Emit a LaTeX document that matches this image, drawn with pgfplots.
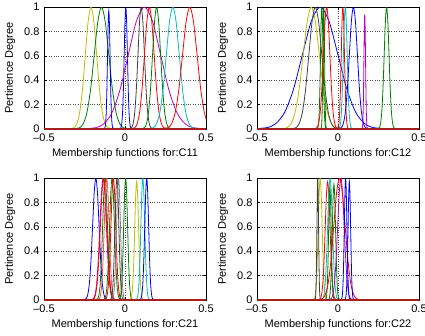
\documentclass[border=0pt]{standalone}
\usepackage{fontspec}
\setmainfont{Liberation Sans}
\usepackage{pgfplots}
\pgfplotsset{compat=1.18}
\definecolor{mb}{rgb}{0,0,1}
\definecolor{mg}{rgb}{0,0.5,0}
\definecolor{mr}{rgb}{1,0,0}
\definecolor{mc}{rgb}{0,0.75,0.75}
\definecolor{mm}{rgb}{0.75,0,0.75}
\definecolor{my}{rgb}{0.75,0.75,0}
\definecolor{mk}{rgb}{0.25,0.25,0.25}
\definecolor{mgr}{rgb}{0.5,0.5,0.5}
\definecolor{mdr}{rgb}{0.65,0.12,0.12}
\pgfplotsset{mf/.style={
  width=162pt,height=122pt,scale only axis,
  xmin=-0.5,xmax=0.5,ymin=0,ymax=1,
  xtick={-0.5,0,0.5},xticklabels={--0.5,0,0.5},
  ytick={0,0.2,0.4,0.6,0.8,1},yticklabels={0,0.2,0.4,0.6,0.8,1},
  grid=major,major grid style={dotted,black!70,line width=0.6pt},
  tick align=inside,major tick length=3pt,tick style={black,line width=0.5pt},
  axis line style={black,line width=0.6pt},
  tick label style={font=\fontsize{11}{13}\selectfont},
  xticklabel style={yshift=-1pt},
  yticklabel style={xshift=-1pt},
  label style={font=\fontsize{11}{13}\selectfont},
  ylabel={Pertinence Degree},
  ylabel style={at={(axis description cs:-0.21,0.5)},anchor=center},
  xlabel style={at={(axis description cs:0.5,-0.2)},anchor=center},
  every axis plot/.append style={line width=0.8pt,smooth},
}}
\begin{document}
\begin{tikzpicture}
\useasboundingbox (0,0) rectangle (425pt,-335pt);
% ---------------- C11
\begin{axis}[mf,at={(44pt,-7pt)},anchor=north west,xlabel={Membership functions for:C11}]
\addplot[my] coordinates {(-0.35,0)(-0.315,.011)(-0.2975,.044)(-0.28,.135)(-0.2625,.325)(-0.245,.607)(-0.2275,.882)(-0.21,1)(-0.1925,.882)(-0.175,.607)(-0.1575,.325)(-0.14,.135)(-0.1225,.044)(-0.105,.011)(-0.07,0)};
\addplot[mg] coordinates {(-0.325,0)(-0.28,.011)(-0.2575,.044)(-0.235,.135)(-0.2125,.325)(-0.19,.607)(-0.1675,.882)(-0.145,1)(-0.1225,.882)(-0.1,.607)(-0.0775,.325)(-0.055,.135)(-0.0325,.044)(-0.01,.011)(0.035,0)};
\addplot[mb] coordinates {(-0.132,0)(-0.124,.011)(-0.12,.043)(-0.116,.131)(-0.112,.315)(-0.108,.589)(-0.104,.856)(-0.1,.97)(-0.096,.856)(-0.092,.589)(-0.088,.315)(-0.084,.131)(-0.08,.043)(-0.076,.011)(-0.068,0)};
\addplot[mb] coordinates {(-0.035,0)(-0.025,.011)(-0.02,.044)(-0.015,.135)(-0.01,.325)(-0.005,.607)(0,.882)(0.005,1)(0.01,.882)(0.015,.607)(0.02,.325)(0.025,.135)(0.03,.044)(0.035,.011)(0.045,0)};
\addplot[mm] coordinates {(-0.28,0)(-0.18,.011)(-0.13,.044)(-0.08,.135)(-0.03,.325)(0.02,.607)(0.07,.882)(0.12,1)(0.17,.882)(0.22,.607)(0.27,.325)(0.32,.135)(0.37,.044)(0.42,.011)(0.52,0)};
\addplot[mk] coordinates {(0.02,0)(0.04,.011)(0.05,.044)(0.06,.135)(0.07,.325)(0.08,.607)(0.09,.882)(0.1,1)(0.11,.882)(0.12,.607)(0.13,.325)(0.14,.135)(0.15,.044)(0.16,.011)(0.18,0)};
\addplot[mr] coordinates {(0.03,0)(0.06,.011)(0.075,.044)(0.09,.135)(0.105,.325)(0.12,.607)(0.135,.882)(0.15,1)(0.165,.882)(0.18,.607)(0.195,.325)(0.21,.135)(0.225,.044)(0.24,.011)(0.27,0)};
\addplot[mg] coordinates {(0.095,0)(0.12,.011)(0.1325,.044)(0.145,.135)(0.1575,.325)(0.17,.607)(0.1825,.882)(0.195,1)(0.2075,.882)(0.22,.607)(0.2325,.325)(0.245,.135)(0.2575,.044)(0.27,.011)(0.295,0)};
\addplot[mc] coordinates {(0.135,0)(0.175,.011)(0.195,.044)(0.215,.135)(0.235,.325)(0.255,.607)(0.275,.882)(0.295,1)(0.315,.882)(0.335,.607)(0.355,.325)(0.375,.135)(0.395,.044)(0.415,.011)(0.455,0)};
\addplot[mr] coordinates {(0.22,0)(0.265,.011)(0.2875,.044)(0.31,.135)(0.3325,.325)(0.355,.607)(0.3775,.882)(0.4,1)(0.4225,.882)(0.445,.607)(0.4675,.325)(0.49,.135)(0.5125,.044)(0.535,.011)(0.58,0)};
\addplot[mdr,line width=1.2pt,sharp plot] coordinates {(-0.5,0)(0.5,0)};
\end{axis}
% ---------------- C12
\begin{axis}[mf,at={(257pt,-7pt)},anchor=north west,xlabel={Membership functions for:C12}]
\addplot[mb] coordinates {(-0.55,0)(-0.44,.011)(-0.385,.044)(-0.33,.135)(-0.275,.325)(-0.22,.607)(-0.165,.882)(-0.11,1)(-0.055,.882)(0,.607)(0.055,.325)(0.11,.135)(0.165,.044)(0.22,.011)(0.33,0)};
\addplot[my] coordinates {(-0.365,0)(-0.315,.011)(-0.29,.044)(-0.265,.135)(-0.24,.325)(-0.215,.607)(-0.19,.882)(-0.165,1)(-0.14,.882)(-0.115,.607)(-0.09,.325)(-0.065,.135)(-0.04,.044)(-0.015,.011)(0.035,0)};
\addplot[mk] coordinates {(-0.3,0)(-0.26,.011)(-0.24,.044)(-0.22,.135)(-0.2,.325)(-0.18,.607)(-0.16,.882)(-0.14,1)(-0.12,.882)(-0.1,.607)(-0.08,.325)(-0.06,.135)(-0.04,.044)(-0.02,.011)(0.02,0)};
\addplot[mg] coordinates {(-0.132,0)(-0.124,.011)(-0.12,.044)(-0.116,.135)(-0.112,.325)(-0.108,.607)(-0.104,.882)(-0.1,1)(-0.096,.882)(-0.092,.607)(-0.088,.325)(-0.084,.135)(-0.08,.044)(-0.076,.011)(-0.068,0)};
\addplot[mg] coordinates {(-0.108,0)(-0.103,.011)(-0.1005,.044)(-0.098,.135)(-0.0955,.325)(-0.093,.607)(-0.0905,.882)(-0.088,1)(-0.0855,.882)(-0.083,.607)(-0.0805,.325)(-0.078,.135)(-0.0755,.044)(-0.073,.011)(-0.068,0)};
\addplot[mr] coordinates {(-0.15,0)(-0.13,.011)(-0.12,.044)(-0.11,.135)(-0.1,.325)(-0.09,.607)(-0.08,.882)(-0.07,1)(-0.06,.882)(-0.05,.607)(-0.04,.325)(-0.03,.135)(-0.02,.044)(-0.01,.011)(0.01,0)};
\addplot[mr] coordinates {(-0.01,0)(0,.011)(0.005,.044)(0.01,.135)(0.015,.325)(0.02,.607)(0.025,.882)(0.03,1)(0.035,.882)(0.04,.607)(0.045,.325)(0.05,.135)(0.055,.044)(0.06,.011)(0.07,0)};
\addplot[mc] coordinates {(-0.003,0)(0.009,.011)(0.015,.044)(0.021,.135)(0.027,.325)(0.033,.607)(0.039,.882)(0.045,1)(0.051,.882)(0.057,.607)(0.063,.325)(0.069,.135)(0.075,.044)(0.081,.011)(0.093,0)};
\addplot[mb] coordinates {(-0.005,0)(0.02,.011)(0.0325,.044)(0.045,.135)(0.0575,.325)(0.07,.607)(0.0825,.882)(0.095,1)(0.1075,.882)(0.12,.607)(0.1325,.325)(0.145,.135)(0.1575,.044)(0.17,.011)(0.195,0)};
\addplot[mm] coordinates {(0.145,0)(0.15,.010)(0.1525,.041)(0.155,.127)(0.1575,.306)(0.16,.571)(0.1625,.829)(0.165,.94)(0.1675,.829)(0.17,.571)(0.1725,.306)(0.175,.127)(0.1775,.041)(0.18,.010)(0.185,0)};
\addplot[mg] coordinates {(0.24,0)(0.255,.011)(0.2625,.044)(0.27,.135)(0.2775,.325)(0.285,.607)(0.2925,.882)(0.3,1)(0.3075,.882)(0.315,.607)(0.3225,.325)(0.33,.135)(0.3375,.044)(0.345,.011)(0.36,0)};
\addplot[mdr,line width=1.2pt,sharp plot] coordinates {(-0.5,0)(0.5,0)};
\end{axis}
% ---------------- C21
\begin{axis}[mf,at={(44pt,-178pt)},anchor=north west,xlabel={Membership functions for:C21}]
\addplot[mb] coordinates {(-0.26,0)(-0.24,.011)(-0.23,.044)(-0.22,.135)(-0.21,.325)(-0.2,.607)(-0.19,.882)(-0.18,1)(-0.17,.882)(-0.16,.607)(-0.15,.325)(-0.14,.135)(-0.13,.044)(-0.12,.011)(-0.1,0)};
\addplot[mm] coordinates {(-0.215,0)(-0.195,.011)(-0.185,.044)(-0.175,.135)(-0.165,.325)(-0.155,.607)(-0.145,.882)(-0.135,1)(-0.125,.882)(-0.115,.607)(-0.105,.325)(-0.095,.135)(-0.085,.044)(-0.075,.011)(-0.055,0)};
\addplot[mg] coordinates {(-0.183,0)(-0.168,.011)(-0.1605,.044)(-0.153,.135)(-0.1455,.325)(-0.138,.607)(-0.1305,.882)(-0.123,1)(-0.1155,.882)(-0.108,.607)(-0.1005,.325)(-0.093,.135)(-0.0855,.044)(-0.078,.011)(-0.063,0)};
\addplot[mr] coordinates {(-0.212,0)(-0.192,.011)(-0.182,.044)(-0.172,.135)(-0.162,.325)(-0.152,.607)(-0.142,.882)(-0.132,1)(-0.122,.882)(-0.112,.607)(-0.102,.325)(-0.092,.135)(-0.082,.044)(-0.072,.011)(-0.052,0)};
\addplot[mr!70] coordinates {(-0.173,0)(-0.158,.011)(-0.1505,.044)(-0.143,.135)(-0.1355,.325)(-0.128,.607)(-0.1205,.882)(-0.113,1)(-0.1055,.882)(-0.098,.607)(-0.0905,.325)(-0.083,.135)(-0.0755,.044)(-0.068,.011)(-0.053,0)};
\addplot[mg] coordinates {(-0.14,0)(-0.125,.011)(-0.1175,.044)(-0.11,.135)(-0.1025,.325)(-0.095,.607)(-0.0875,.882)(-0.08,1)(-0.0725,.882)(-0.065,.607)(-0.0575,.325)(-0.05,.135)(-0.0425,.044)(-0.035,.011)(-0.02,0)};
\addplot[mr] coordinates {(-0.132,0)(-0.117,.011)(-0.1095,.044)(-0.102,.135)(-0.0945,.325)(-0.087,.607)(-0.0795,.882)(-0.072,1)(-0.0645,.882)(-0.057,.607)(-0.0495,.325)(-0.042,.135)(-0.0345,.044)(-0.027,.011)(-0.012,0)};
\addplot[mk] coordinates {(-0.098,0)(-0.086,.011)(-0.08,.044)(-0.074,.135)(-0.068,.325)(-0.062,.607)(-0.056,.882)(-0.05,1)(-0.044,.882)(-0.038,.607)(-0.032,.325)(-0.026,.135)(-0.02,.044)(-0.014,.011)(-0.002,0)};
\addplot[mgr] coordinates {(-0.088,0)(-0.076,.011)(-0.07,.044)(-0.064,.135)(-0.058,.325)(-0.052,.607)(-0.046,.882)(-0.04,1)(-0.034,.882)(-0.028,.607)(-0.022,.325)(-0.016,.135)(-0.01,.044)(-0.004,.011)(0.008,0)};
\addplot[mg] coordinates {(-0.044,0)(-0.032,.011)(-0.026,.044)(-0.02,.135)(-0.014,.325)(-0.008,.607)(-0.002,.882)(0.004,1)(0.01,.882)(0.016,.607)(0.022,.325)(0.028,.135)(0.034,.044)(0.04,.011)(0.052,0)};
\addplot[my] coordinates {(0.024,0)(0.036,.011)(0.042,.043)(0.048,.131)(0.054,.315)(0.06,.589)(0.066,.856)(0.072,.97)(0.078,.856)(0.084,.589)(0.09,.315)(0.096,.131)(0.102,.043)(0.108,.011)(0.12,0)};
\addplot[mc] coordinates {(0.062,0)(0.074,.011)(0.08,.044)(0.086,.135)(0.092,.325)(0.098,.607)(0.104,.882)(0.11,1)(0.116,.882)(0.122,.607)(0.128,.325)(0.134,.135)(0.14,.044)(0.146,.011)(0.158,0)};
\addplot[mb] coordinates {(0.086,0)(0.098,.011)(0.104,.044)(0.11,.135)(0.116,.325)(0.122,.607)(0.128,.882)(0.134,1)(0.14,.882)(0.146,.607)(0.152,.325)(0.158,.135)(0.164,.044)(0.17,.011)(0.182,0)};
\addplot[mdr,line width=1.2pt,sharp plot] coordinates {(-0.5,0)(0.5,0)};
\end{axis}
% ---------------- C22
\begin{axis}[mf,at={(257pt,-178pt)},anchor=north west,xlabel={Membership functions for:C22}]
\addplot[my] coordinates {(-0.158,0)(-0.146,.011)(-0.14,.044)(-0.134,.135)(-0.128,.325)(-0.122,.607)(-0.116,.882)(-0.11,1)(-0.104,.882)(-0.098,.607)(-0.092,.325)(-0.086,.135)(-0.08,.044)(-0.074,.011)(-0.062,0)};
\addplot[mk] coordinates {(-0.145,0)(-0.14,.011)(-0.1375,.044)(-0.135,.135)(-0.1325,.325)(-0.13,.607)(-0.1275,.882)(-0.125,1)(-0.1225,.882)(-0.12,.607)(-0.1175,.325)(-0.115,.135)(-0.1125,.044)(-0.11,.011)(-0.105,0)};
\addplot[mr] coordinates {(-0.124,0)(-0.109,.011)(-0.1015,.043)(-0.094,.131)(-0.0865,.315)(-0.079,.589)(-0.0715,.856)(-0.064,.97)(-0.0565,.856)(-0.049,.589)(-0.0415,.315)(-0.034,.131)(-0.0265,.043)(-0.019,.011)(-0.004,0)};
\addplot[mc] coordinates {(-0.109,0)(-0.094,.011)(-0.0865,.044)(-0.079,.135)(-0.0715,.325)(-0.064,.607)(-0.0565,.882)(-0.049,1)(-0.0415,.882)(-0.034,.607)(-0.0265,.325)(-0.019,.135)(-0.0115,.044)(-0.004,.011)(0.011,0)};
\addplot[mg] coordinates {(-0.082,0)(-0.074,.010)(-0.07,.040)(-0.066,.124)(-0.062,.299)(-0.058,.558)(-0.054,.811)(-0.05,.92)(-0.046,.811)(-0.042,.558)(-0.038,.299)(-0.034,.124)(-0.03,.040)(-0.026,.010)(-0.018,0)};
\addplot[mg] coordinates {(-0.065,0)(-0.055,.010)(-0.05,.042)(-0.045,.128)(-0.04,.309)(-0.035,.577)(-0.03,.838)(-0.025,.95)(-0.02,.838)(-0.015,.577)(-0.01,.309)(-0.005,.128)(0,.042)(0.005,.010)(0.015,0)};
\addplot[mm] coordinates {(-0.062,0)(-0.042,.011)(-0.032,.044)(-0.022,.135)(-0.012,.325)(-0.002,.607)(0.008,.882)(0.018,1)(0.028,.882)(0.038,.607)(0.048,.325)(0.058,.135)(0.068,.044)(0.078,.011)(0.098,0)};
\addplot[mr] coordinates {(-0.131,0)(-0.096,.011)(-0.0785,.044)(-0.061,.135)(-0.0435,.325)(-0.026,.607)(-0.0085,.882)(0.009,1)(0.0265,.882)(0.044,.607)(0.0615,.325)(0.079,.135)(0.0965,.044)(0.114,.011)(0.149,0)};
\addplot[mb] coordinates {(0.015,0)(0.023,.011)(0.027,.044)(0.031,.135)(0.035,.325)(0.039,.607)(0.043,.882)(0.047,1)(0.051,.882)(0.055,.607)(0.059,.325)(0.063,.135)(0.067,.044)(0.071,.011)(0.079,0)};
\addplot[mb] coordinates {(0.038,0)(0.046,.011)(0.05,.043)(0.054,.131)(0.058,.315)(0.062,.589)(0.066,.856)(0.07,.97)(0.074,.856)(0.078,.589)(0.082,.315)(0.086,.131)(0.09,.043)(0.094,.011)(0.102,0)};
\addplot[mdr,line width=1.2pt,sharp plot] coordinates {(-0.5,0)(0.5,0)};
\end{axis}
\end{tikzpicture}
\end{document}
